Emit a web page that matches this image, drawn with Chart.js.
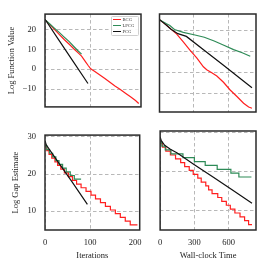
<!DOCTYPE html>
<html>
<head>
<meta charset="utf-8">
<script src="https://cdn.jsdelivr.net/npm/chart.js@4.4.1/dist/chart.umd.min.js"></script>
<style>
  html, body { margin: 0; padding: 0; background: #fff; }
  body { position: relative; width: 270px; height: 270px; overflow: hidden; }
  canvas { position: absolute; }
  #legend {
    position: absolute; left: 111px; top: 15.5px; width: 28px; box-sizing: border-box;
    border: 0.6px solid #cfcfcf; border-radius: 1.5px; background: rgba(255,255,255,0.92);
    font-family: "Liberation Serif", serif; font-size: 4.6px; color: #333;
  }
  #legend div { height: 6.2px; display: flex; align-items: center; white-space: nowrap; }
  #legend span { display: inline-block; width: 7.5px; height: 1px; margin: 0 2px 0 1px; }
</style>
</head>
<body>
<canvas id="tl" width="150" height="121" style="left:0;top:0"></canvas>
<canvas id="tr" width="110" height="121" style="left:150px;top:0"></canvas>
<canvas id="bl" width="150" height="149" style="left:0;top:121px"></canvas>
<canvas id="br" width="110" height="149" style="left:150px;top:121px"></canvas>
<div id="legend"></div>
<script>
const names = ['BCG', 'LPCG', 'PCG'];
const colors = ['#ff1f1f', '#2e8b57', '#111111'];

// tick values
const iterTicks = [0, 100, 200];
const timeTicks = [0, 300, 600];
const fvTicks = [-10, 0, 10, 20];
const gapTicks = [10, 20, 30];

// log function value vs iterations
const bcgFvIter = [0, 10, 20, 31, 42, 53, 64, 72, 80, 88, 94, 100, 109, 120, 131, 142, 153, 164, 176, 187, 198, 205];
const bcgFv = [25, 22.6, 20.2, 17.6, 15.0, 12.6, 10.1, 8.4, 6.6, 4.0, 2.0, 0.2, -1.2, -2.9, -4.7, -6.6, -8.5, -10.1, -12.1, -13.9, -15.8, -17.3];
const lpcgFvIter = [0, 10, 20, 31, 42, 53, 64, 72, 80];
const lpcgFv = [25, 22.9, 20.8, 18.6, 16.2, 13.9, 11.2, 9.3, 7.6];
const pcgFvIter = [0, 30, 60, 94];
const pcgFv = [25.2, 14.8, 4.5, -7.2];

// log function value vs wall-clock time
const bcgFvTime = [0, 30, 61, 100, 150, 207, 265, 324, 382, 411, 455, 499, 557, 615, 674, 732, 776, 805];
const bcgFvT = [25.1, 23.9, 22.5, 20.6, 18.2, 14.5, 10.6, 6.8, 2.6, 1.2, -0.3, -1.8, -4.8, -8.5, -11.6, -14.8, -16.6, -17.2];
const lpcgFvTime = [0, 30, 61, 90, 130, 207, 300, 390, 476, 560, 645, 720, 790];
const lpcgFvT = [25.1, 24.1, 23.1, 22.3, 20.4, 19.0, 17.9, 16.7, 14.9, 12.9, 10.8, 9.3, 7.6];
const pcgFvTime = [0, 30, 61, 100, 160, 234, 400, 557, 700, 805];
const pcgFvT = [25.1, 23.8, 22.4, 20.5, 18.4, 17.1, 10.0, 3.3, -2.9, -7.4];

// log gap estimate (step levels), iterations and time of each drop
const bcgGap = [28.3, 27.3, 26.3, 25.3, 24.3, 23.3, 22.3, 21.3, 20.3, 19.3, 18.3, 17.3, 16.3, 15.3, 14.3, 13.3, 12.3, 11.3, 10.3, 9.3, 8.3, 7.3, 6.3, 6.3];
const bcgGapIter = [0, 4, 9, 15, 22, 28, 35, 43, 52, 61, 70, 80, 91, 102, 112, 123, 134, 145, 156, 167, 178, 189, 199, 205];
const bcgGapTime = [0, 20, 50, 90, 135, 180, 215, 255, 290, 330, 360, 400, 425, 455, 505, 540, 580, 615, 655, 700, 740, 775, 795, 805];
const lpcgGap = [28.6, 27.6, 26.6, 25.6, 24.6, 23.6, 22.6, 21.6, 20.6, 19.6, 18.6, 18.6];
const lpcgGapIter = [0, 4, 10, 17, 24, 31, 39, 47, 56, 65, 75, 80];
const lpcgGapTime = [0, 15, 45, 95, 200, 300, 395, 500, 620, 690, 770, 800];
const pcgGapIter = [0, 3, 30, 60, 94];
const pcgGapI = [29.0, 27.8, 23.1, 17.9, 11.8];
const pcgGapTime = [0, 10, 40, 90, 150, 300, 470, 640, 805];
const pcgGapT = [29.0, 28.0, 26.8, 25.8, 24.8, 21.8, 18.5, 15.1, 11.8];

const FONT = { family: '"Liberation Serif", "DejaVu Serif", serif', size: 8.5 };
const TXT = '#222';
const GRID_COLOR = '#b8b8b8';
const BORDER = { display: false, dash: [3.5, 2.5] };
const fmt = v => v < 0 ? '\u2212' + Math.abs(v) : String(v);

// black frame round the plot area
const frame = {
  id: 'frame',
  afterDraw(chart) {
    const { ctx, chartArea: a } = chart;
    ctx.save();
    ctx.strokeStyle = '#2a2a2a';
    ctx.lineWidth = 1.5;
    ctx.strokeRect(a.left, a.top, a.right - a.left, a.bottom - a.top);
    ctx.restore();
  }
};

function series(i, xs, ys, stepped) {
  return {
    label: names[i],
    data: xs.map((x, k) => ({ x: x, y: ys[k] })),
    borderColor: colors[i],
    borderWidth: 1.2,
    pointRadius: 0,
    fill: false,
    tension: 0,
    stepped: stepped ? 'after' : false,
    order: 3 - i
  };
}

function buildChart(id, datasets, o) {
  return new Chart(document.getElementById(id), {
    type: 'line',
    data: { datasets: datasets },
    options: {
      responsive: false,
      animation: false,
      layout: { padding: o.pad },
      plugins: { legend: { display: false }, tooltip: { enabled: false } },
      scales: {
        x: {
          type: 'linear', min: o.xMin, max: o.xMax,
          // the gridline right by the frame (200 iterations) is not drawn in the original
          grid: { drawTicks: false, lineWidth: 1,
                  color: c => (c.tick && c.tick.value === 200) ? 'rgba(0,0,0,0)' : GRID_COLOR },
          border: BORDER,
          ticks: { display: !!o.xTitle, padding: 8, maxRotation: 0,
                   font: FONT, color: TXT, callback: fmt },
          afterBuildTicks: s => { s.ticks = o.xTicks.map(v => ({ value: v })); },
          title: { display: !!o.xTitle, text: o.xTitle, font: FONT, color: TXT,
                   padding: { top: 0, bottom: 9.4 } },
          afterFit: s => { s.height = o.xTitle ? 40 : 0; }
        },
        y: {
          min: o.yMin, max: o.yMax,
          grid: { drawTicks: false, lineWidth: 1, color: GRID_COLOR },
          border: BORDER,
          ticks: { display: !!o.yTitle, padding: 9, font: FONT, color: TXT, callback: fmt },
          afterBuildTicks: s => { s.ticks = o.yTicks.map(v => ({ value: v })); },
          title: { display: !!o.yTitle, text: o.yTitle, font: FONT, color: TXT,
                   padding: { top: o.yTitlePad || 0, bottom: 0 } },
          afterFit: s => { s.width = o.yTitle ? 45 : 0; }
        }
      }
    },
    plugins: [frame]
  });
}

buildChart('tl', [
  series(0, bcgFvIter, bcgFv),
  series(1, lpcgFvIter, lpcgFv),
  series(2, pcgFvIter, pcgFv)
], { xMin: 0, xMax: 210, xTicks: iterTicks, yMin: -19, yMax: 27.8, yTicks: fvTicks,
     yTitle: 'Log Function Value', yTitlePad: 7, pad: { top: 14, right: 9, bottom: 9, left: 0 } });

buildChart('tr', [
  series(0, bcgFvTime, bcgFvT),
  series(1, lpcgFvTime, lpcgFvT),
  series(2, pcgFvTime, pcgFvT)
], { xMin: 0, xMax: 840, xTicks: timeTicks, yMin: -19, yMax: 27.8, yTicks: fvTicks,
     pad: { top: 14, right: 4, bottom: 9, left: 9.5 } });

buildChart('bl', [
  series(0, bcgGapIter, bcgGap, true),
  series(1, lpcgGapIter, lpcgGap, true),
  series(2, pcgGapIter, pcgGapI)
], { xMin: 0, xMax: 210, xTicks: iterTicks, yMin: 4.9, yMax: 30.5, yTicks: gapTicks,
     xTitle: 'Iterations', yTitle: 'Log Gap Estimate', yTitlePad: 10.4,
     pad: { top: 10, right: 9, bottom: 0, left: 0 } });

buildChart('br', [
  series(0, bcgGapTime, bcgGap, true),
  series(1, lpcgGapTime, lpcgGap, true),
  series(2, pcgGapTime, pcgGapT)
], { xMin: 0, xMax: 840, xTicks: timeTicks, yMin: 4.9, yMax: 30.5, yTicks: gapTicks,
     xTitle: 'Wall-clock Time', pad: { top: 10, right: 4, bottom: 0, left: 9.5 } });

// legend box inside the top-left panel
const legend = document.getElementById('legend');
names.forEach((n, i) => {
  const row = document.createElement('div');
  const sw = document.createElement('span');
  sw.style.background = colors[i];
  row.appendChild(sw);
  row.appendChild(document.createTextNode(n));
  legend.appendChild(row);
});
</script>
</body>
</html>
